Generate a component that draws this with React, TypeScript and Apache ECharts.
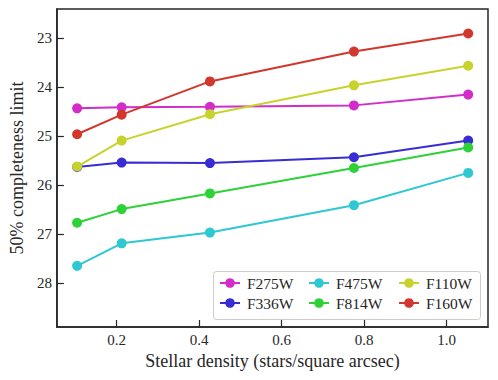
import React, { useEffect, useRef } from "react";
import * as echarts from "echarts";

const densities = [0.104, 0.212, 0.426, 0.775, 1.052];
const f275w = [24.43, 24.41, 24.4, 24.37, 24.15];
const f336w = [25.63, 25.54, 25.55, 25.43, 25.09];
const f475w = [27.65, 27.19, 26.97, 26.41, 25.75];
const f814w = [26.77, 26.49, 26.17, 25.65, 25.23];
const f110w = [25.62, 25.09, 24.55, 23.96, 23.56];
const f160w = [24.96, 24.56, 23.88, 23.27, 22.9];

const xTicks = [0.2, 0.4, 0.6, 0.8, 1.0];
const yTicks = [23, 24, 25, 26, 27, 28];

const seriesDefs = [
  { name: "F275W", values: f275w, color: "#d22dc8" },
  { name: "F336W", values: f336w, color: "#372dd2" },
  { name: "F475W", values: f475w, color: "#2dc8d2" },
  { name: "F814W", values: f814w, color: "#2dd237" },
  { name: "F110W", values: f110w, color: "#c8d22d" },
  { name: "F160W", values: f160w, color: "#d2372d" },
];

const FONT = "Liberation Serif";
const AXIS_COLOR = "#262626";

export default function App() {
  const ref = useRef<HTMLDivElement>(null);
  useEffect(() => {
    if (!ref.current) return;
    const chart = echarts.init(ref.current, undefined, { renderer: "svg" });
    const legendCommon = {
      orient: "vertical" as const,
      itemWidth: 20,
      itemHeight: 12,
      itemGap: 4,
      padding: 0,
      z: 6,
      selectedMode: false,
      textStyle: { fontFamily: FONT, fontSize: 15.5, color: "#262626", padding: [0, 0, 0, 2] },
    };
    chart.setOption({
      animation: false,
      backgroundColor: "#ffffff",
      grid: {
        left: 52,
        right: 10,
        top: 9,
        bottom: 53,
        show: true,
        borderColor: AXIS_COLOR,
        borderWidth: 1.5,
        backgroundColor: "transparent",
      },
      xAxis: {
        type: "value",
        min: 0.055,
        max: 1.1,
        name: "Stellar density (stars/square arcsec)",
        nameLocation: "middle",
        nameGap: 22,
        nameTextStyle: { fontFamily: FONT, fontSize: 18, color: "#262626" },
        axisLine: { show: true, lineStyle: { color: AXIS_COLOR, width: 1.5 } },
        axisTick: {
          show: true,
          inside: true,
          length: 7,
          lineStyle: { color: AXIS_COLOR, width: 1.2 },
          customValues: xTicks,
        },
        axisLabel: {
          fontFamily: FONT,
          fontSize: 15,
          color: "#262626",
          margin: 5,
          customValues: xTicks,
          formatter: (v: number) => v.toFixed(1),
        },
        splitLine: { show: false },
      },
      yAxis: {
        type: "value",
        inverse: true,
        min: 22.4,
        max: 28.9,
        name: "50% completeness limit",
        nameLocation: "middle",
        nameGap: 26,
        nameTextStyle: { fontFamily: FONT, fontSize: 18, color: "#262626" },
        axisLine: { show: true, lineStyle: { color: AXIS_COLOR, width: 1.5 } },
        axisTick: {
          show: true,
          inside: true,
          length: 7,
          lineStyle: { color: AXIS_COLOR, width: 1.2 },
          customValues: yTicks,
        },
        axisLabel: {
          fontFamily: FONT,
          fontSize: 15,
          color: "#262626",
          margin: 5,
          customValues: yTicks,
          formatter: (v: number) => String(Math.round(v)),
        },
        splitLine: { show: false },
      },
      legend: [
        { ...legendCommon, data: ["F275W", "F336W"], left: 219, top: 275 },
        { ...legendCommon, data: ["F475W", "F814W"], left: 308, top: 275 },
        { ...legendCommon, data: ["F110W", "F160W"], left: 398, top: 275 },
      ],
      graphic: [
        {
          type: "rect",
          left: 213,
          top: 271,
          shape: { width: 267, height: 48, r: 3 },
          style: { fill: "#ffffff", stroke: "#cccccc", lineWidth: 1 },
          z: 4,
        },
      ],
      series: seriesDefs.map((s) => ({
        name: s.name,
        type: "line",
        data: densities.map((x, i) => [x, s.values[i]]),
        symbol: "circle",
        symbolSize: 10,
        showSymbol: true,
        itemStyle: { color: s.color },
        lineStyle: { color: s.color, width: 2 },
        z: 2,
      })),
    });
    return () => chart.dispose();
  }, []);
  return (
    <div
      ref={ref}
      style={{ position: "fixed", left: 0, top: 0, width: 498, height: 380, background: "#fff" }}
    />
  );
}
